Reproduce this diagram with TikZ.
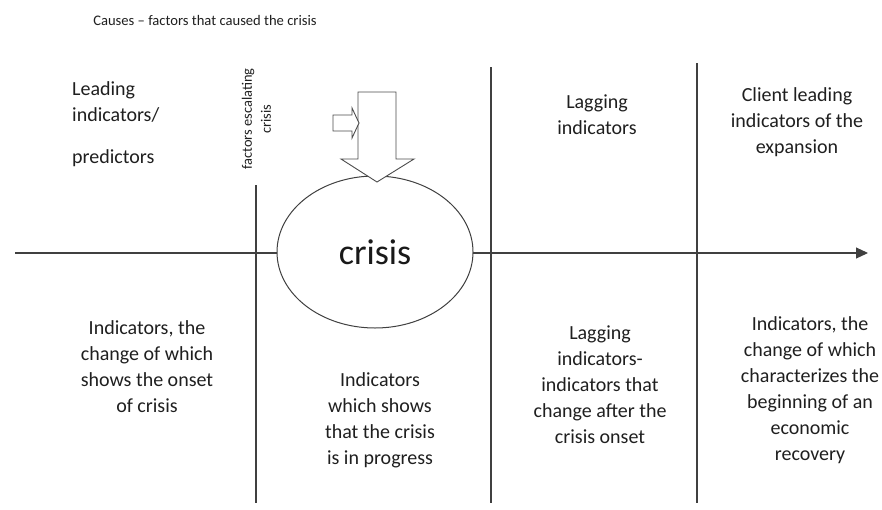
\documentclass[tikz,border=0pt]{standalone}
\usepackage{fontspec}
\setmainfont{Carlito}
\usetikzlibrary{arrows.meta,shapes.geometric}
\begin{document}
\begin{tikzpicture}[x=1pt,y=-1pt,
  rule/.style={draw=black!75, line width=1.1pt},
  label/.style={font=\fontsize{20}{26}\selectfont, text=black!88, align=center, inner sep=0pt},
  smalllabel/.style={font=\fontsize{14.4}{19}\selectfont, text=black!88, align=center, inner sep=0pt},
  blockarrow/.style={draw=black!70, line width=0.9pt, fill=white, line join=miter}]
\useasboundingbox (0,0) rectangle (882,509);

% time axis
\coordinate (axL) at (15,253);
\coordinate (axR) at (868,253);
\draw[rule, -{Triangle[length=12pt,width=11pt]}] (axL) -- (axR);

% phase separators
\coordinate (s1t) at (256,185);
\coordinate (s1b) at (256,503);
\coordinate (s2t) at (491,67);
\coordinate (s2b) at (491,503);
\coordinate (s3t) at (697,63);
\coordinate (s3b) at (697,503);
\draw[rule] (s1t) -- (s1b);
\draw[rule] (s2t) -- (s2b);
\draw[rule] (s3t) -- (s3b);

% crisis
\node[draw=black!75, line width=1pt, fill=white, ellipse, minimum width=196pt,
      minimum height=152pt, inner sep=0pt, text=black!90,
      font=\fontsize{36}{40}\selectfont] (crisis) at (375,252) {crisis};

% causes pressing on the crisis
\draw[blockarrow] (358,92) -- (396,92) -- (396,159) -- (414,159) -- (377,182)
  -- (341,159) -- (358,159) -- cycle;
\draw[blockarrow] (333,115) -- (352,115) -- (352,108) -- (359,123) -- (352,138)
  -- (352,131) -- (333,131) -- cycle;

% labels
\node[font=\fontsize{14.6}{17}\selectfont, text=black!88, inner sep=0pt] (causes) at (205,20)
  {Causes -- factors that caused the crisis};
\node[smalllabel, rotate=90] (escal) at (256.5,119) {factors escalating\\crisis};

\node[label, align=left, anchor=west] (lead) at (72,124) {Leading\\indicators/\\[16pt]predictors};
\node[label] (lag) at (597,115) {Lagging\\indicators};
\node[label] (client) at (797,122) {Client leading\\indicators of the\\expansion};

\node[label] (onset) at (147,367) {Indicators, the\\change of which\\shows the onset\\of crisis};
\node[label] (progress) at (380,420) {Indicators\\which shows\\that the crisis\\is in progress};
\node[label] (after) at (600,385) {Lagging\\indicators-\\indicators that\\change after the\\crisis onset};
\node[label] (recovery) at (810,390) {Indicators, the\\change of which\\characterizes the\\beginning of an\\economic\\recovery};
\end{tikzpicture}
\end{document}
